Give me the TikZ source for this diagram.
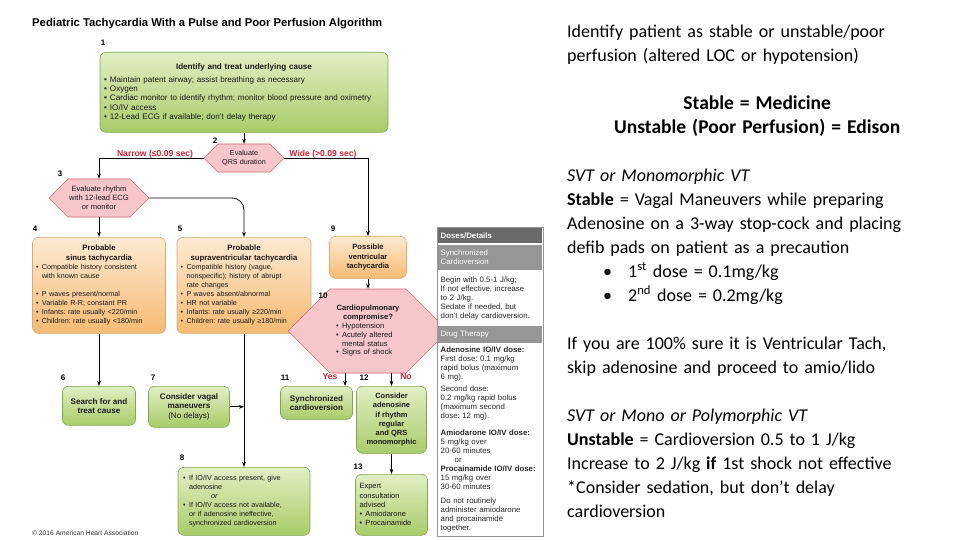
\documentclass[tikz,border=0pt]{standalone}
\usepackage{fontspec}
\setmainfont{Liberation Sans}
\newfontfamily\slidefont{Carlito}
\usetikzlibrary{arrows.meta,positioning,shapes.symbols}

\definecolor{greentop}{RGB}{226,238,196}
\definecolor{greenbot}{RGB}{168,204,104}
\definecolor{greenline}{RGB}{130,165,85}
\definecolor{orangetop}{RGB}{253,234,210}
\definecolor{orangebot}{RGB}{246,186,115}
\definecolor{orangeline}{RGB}{215,170,120}
\definecolor{hexfill}{RGB}{246,198,203}
\definecolor{hexline}{RGB}{205,105,115}
\definecolor{branchred}{RGB}{205,35,50}
\definecolor{panelgray}{RGB}{105,105,105}
\definecolor{bandgray}{RGB}{150,150,150}

\newcommand{\chartfont}{\fontsize{7.2}{9}\selectfont\frenchspacing}
\newcommand{\bigchart}{\fontsize{8.1}{9.2}\selectfont\frenchspacing}
\newcommand{\panelfont}{\fontsize{7.8}{9}\selectfont\frenchspacing}
\newcommand{\bl}{\makebox[6pt][l]{\textbullet}}
\newcommand{\cl}{\hspace*{6pt}}

\tikzset{
  greenbox/.style={draw=greenline, top color=greentop, bottom color=greenbot, rounded corners=6pt,
    line width=0.6pt, font=\chartfont, inner sep=3pt, anchor=north, text=black!90},
  orangebox/.style={draw=orangeline, top color=orangetop, bottom color=orangebot, rounded corners=6pt,
    line width=0.6pt, font=\chartfont, inner sep=3pt, anchor=north, text=black!90},
  hexbox/.style={shape=signal, signal to=west and east, draw=hexline, fill=hexfill,
    line width=0.6pt, font=\chartfont, align=center, inner sep=1pt, text=black!90},
  steplabel/.style={font=\fontsize{8}{9}\selectfont\bfseries, inner sep=0},
  branch/.style={font=\fontsize{8.6}{9}\selectfont\bfseries, text=branchred, inner sep=0},
  arr/.style={-{Stealth[length=5pt,width=3.6pt]}, line width=0.8pt},
  panelhead/.style={fill=panelgray, text=white, font=\panelfont\bfseries, text width=99pt,
    minimum height=15pt, inner sep=2.5pt, align=left},
  panelband/.style={fill=bandgray, text=white, font=\panelfont, text width=99pt,
    inner sep=2.5pt, align=left},
  paneltext/.style={fill=white, text=black!85, font=\panelfont, text width=99pt,
    inner sep=2.5pt, align=left},
  notes/.style={anchor=north west, inner sep=0, text width=380pt, align=left,
    font=\slidefont\fontsize{18}{24}\selectfont}
}

\begin{document}
\begin{tikzpicture}[x=1pt,y=-1pt]
  \useasboundingbox (0,0) rectangle (960,540);
  \fill[white] (0,0) rectangle (960,540);

  \node[anchor=west, font=\fontsize{11.3}{13}\selectfont\bfseries, inner sep=0] (title) at (32,24)
    {Pediatric Tachycardia With a Pulse and Poor Perfusion Algorithm};

  % step boxes
  \node[greenbox, font=\bigchart, minimum width=288, minimum height=80, text width=280pt, align=left] (cause) at (244,52)
    {{\centering\bfseries Identify and treat underlying cause\par}\vspace{4pt}
     \bl Maintain patent airway; assist breathing as necessary\\
     \bl Oxygen\\
     \bl Cardiac monitor to identify rhythm; monitor blood pressure and oximetry\\
     \bl IO/IV access\\
     \bl 12-Lead ECG if available; don’t delay therapy};
  \node[hexbox, minimum width=80, minimum height=28] (qrs) at (244,158) {Evaluate\\QRS duration};
  \node[hexbox, font=\fontsize{7.6}{9}\selectfont, minimum width=100, minimum height=38] (rhythm) at (99,198)
    {Evaluate rhythm\\with 12-lead ECG\\or monitor};
  \node[orangebox, minimum width=133, minimum height=96, text width=126pt, align=left] (sinus) at (99,237)
    {{\centering\fontsize{7.8}{10}\selectfont\bfseries Probable\\sinus tachycardia\par}
     \bl Compatible history consistent\\
     \cl with known cause\\[9pt]
     \bl P waves present/normal\\
     \bl Variable R-R; constant PR\\
     \bl Infants: rate usually <220/min\\
     \bl Children: rate usually <180/min};
  \node[orangebox, minimum width=134, minimum height=96, text width=127pt, align=left] (svt) at (244,237)
    {{\centering\fontsize{7.8}{10}\selectfont\bfseries Probable\\supraventricular tachycardia\par}
     \bl Compatible history (vague,\\
     \cl nonspecific); history of abrupt\\
     \cl rate changes\\
     \bl P waves absent/abnormal\\
     \bl HR not variable\\
     \bl Infants: rate usually ≥220/min\\
     \bl Children: rate usually ≥180/min};
  \node[orangebox, minimum width=77, minimum height=42, align=center, font=\fontsize{7.6}{9.3}\selectfont\bfseries] (vtach) at (368,236)
    {Possible\\ventricular\\tachycardia};
  \node[hexbox, font=\fontsize{7.6}{8.8}\selectfont, minimum width=100, minimum height=84, text width=74pt, align=left] (compromise) at (368,331)
    {{\centering\bfseries Cardiopulmonary\\compromise?\par}
     \hspace*{5pt}\bl Hypotension\\
     \hspace*{5pt}\bl Acutely altered\\
     \hspace*{5pt}\cl mental status\\
     \hspace*{5pt}\bl Signs of shock};
  \node[greenbox, minimum width=73, minimum height=39, align=center, font=\bigchart\bfseries] (search) at (99,386)
    {Search for and\\treat cause};
  \node[greenbox, minimum width=81, minimum height=41, align=center, font=\bigchart] (vagal) at (189,386)
    {\textbf{Consider vagal}\\\textbf{maneuvers}\\(No delays)};
  \node[greenbox, minimum width=72, minimum height=33, align=center, font=\bigchart\bfseries] (cardiovert) at (316.5,386)
    {Synchronized\\cardioversion};
  \node[greenbox, minimum width=70, minimum height=67, align=center, font=\fontsize{7.5}{9.3}\selectfont\bfseries] (adenosine) at (391.5,386)
    {Consider\\adenosine\\if rhythm\\regular\\and QRS\\monomorphic};
  \node[greenbox, minimum width=132, minimum height=68, text width=122pt, align=left] (ivaccess) at (244,467)
    {\bl If IO/IV access present, give\\
     \cl adenosine\\
     \hspace*{28pt}\textit{or}\\
     \bl If IO/IV access not available,\\
     \cl or if adenosine ineffective,\\
     \cl synchronized cardioversion};
  \node[greenbox, font=\fontsize{7.5}{9.2}\selectfont, minimum width=72, minimum height=61, text width=64pt, align=left] (expert) at (391.5,474)
    {Expert\\consultation\\advised\\
     \bl Amiodarone\\
     \bl Procainamide};

  % step numbers
  \node[steplabel] (n1) at (103,43) {1};
  \node[steplabel] (n2) at (215,141) {2};
  \node[steplabel] (n3) at (60,174) {3};
  \node[steplabel] (n4) at (35,229) {4};
  \node[steplabel] (n5) at (180,229) {5};
  \node[steplabel] (n9) at (333,229) {9};
  \node[steplabel] (n10) at (323,296) {10};
  \node[steplabel] (n6) at (63,378) {6};
  \node[steplabel] (n7) at (153,378) {7};
  \node[steplabel] (n11) at (285,378) {11};
  \node[steplabel] (n12) at (364,378) {12};
  \node[steplabel] (n8) at (182,458) {8};
  \node[steplabel] (n13) at (358,467) {13};

  % branch labels
  \node[branch] (narrow) at (155,154) {Narrow (≤0.09 sec)};
  \node[branch] (wide) at (323,154) {Wide (>0.09 sec)};
  \node[branch] (yes) at (330,377) {Yes};
  \node[branch] (no) at (406,377) {No};

  % connectors
  \draw[arr] (cause.south) -- (qrs.north);
  \draw[arr] (qrs.west) -| (rhythm.north);
  \draw[arr] (qrs.east) -| (vtach.north);
  \draw[arr] (rhythm.south) -- (sinus.north);
  \draw[arr, rounded corners=12pt] (rhythm.east) -| (svt.north);
  \draw[arr] (sinus.south) -- (search.north);
  \draw[arr] (svt.south) -- (ivaccess.north);
  \draw[arr] (vagal.east) -- (vagal.east -| svt.south);
  \draw[arr] (vtach.south) -- (compromise.north);
  \coordinate (yesfoot) at ([xshift=-23pt]compromise.south);
  \coordinate (nofoot) at ([xshift=23.5pt]compromise.south);
  \draw[arr] (yesfoot) -- (yesfoot |- cardiovert.north);
  \draw[arr] (nofoot) -- (nofoot |- adenosine.north);
  \draw[arr] (adenosine.south) -- (expert.north);

  % doses panel
  \node[draw=bandgray, fill=white, line width=0.6pt, minimum width=106, minimum height=309,
    anchor=north west, inner sep=0] (doses) at (437,227) {};
  \node[panelhead, anchor=north west] (doseshead) at (438,228) {Doses/Details};
  \node[panelband, below=1pt of doseshead, minimum height=25pt] (synchead) {Synchronized\\Cardioversion};
  \node[paneltext, below=1pt of synchead, minimum height=54pt] (synctext)
    {Begin with 0.5-1 J/kg;\\If not effective, increase\\to 2 J/kg.\\Sedate if needed, but\\don’t delay cardioversion.};
  \node[panelband, below=1pt of synctext, minimum height=17pt] (drughead) {Drug Therapy};
  \node[paneltext, below=1pt of drughead] (drugtext)
    {\textbf{Adenosine IO/IV dose:}\\
     First dose: 0.1 mg/kg\\
     rapid bolus (maximum\\
     6 mg).\\[3pt]
     Second dose:\\
     0.2 mg/kg rapid bolus\\
     (maximum second\\
     dose: 12 mg).\\[8pt]
     \textbf{Amiodarone IO/IV dose:}\\
     5 mg/kg over\\
     20-60 minutes\\
     \hspace*{14pt}or\\
     \textbf{Procainamide IO/IV dose:}\\
     15 mg/kg over\\
     30-60 minutes\\[5pt]
     Do not routinely\\
     administer amiodarone\\
     and procainamide\\
     together.};

  \node[anchor=west, font=\fontsize{6.7}{8}\selectfont, text=black!80, inner sep=0] (copyright) at (32,533)
    {\textcopyright\ 2016 American Heart Association};

  % slide notes
  \node[notes] (slide) at (567,20.2)
    {\strut Identify patient as stable or unstable/poor\\
     perfusion (altered LOC or hypotension)\par
     \vspace{24pt}
     {\centering\fontsize{19.5}{24}\selectfont\bfseries Stable = Medicine\\Unstable (Poor Perfusion) = Edison\par}
     \vspace{24pt}
     \textit{SVT or Monomorphic VT}\\
     \textbf{Stable} = Vagal Maneuvers while preparing\\
     Adenosine on a 3-way stop-cock and placing\\
     defib pads on patient as a precaution\\
     \hspace*{36pt}\makebox[25pt][l]{\textbullet}1\textsuperscript{st} dose = 0.1mg/kg\\
     \hspace*{36pt}\makebox[25pt][l]{\textbullet}2\textsuperscript{nd} dose = 0.2mg/kg\par
     \vspace{24pt}
     If you are 100\% sure it is Ventricular Tach,\\
     skip adenosine and proceed to amio/lido\par
     \vspace{24pt}
     \textit{SVT or Mono or Polymorphic VT}\\
     \textbf{Unstable} = Cardioversion 0.5 to 1 J/kg\\
     Increase to 2 J/kg \textbf{if} 1st shock not effective\\
     {*}Consider sedation, but don’t delay\\
     cardioversion};
\end{tikzpicture}
\end{document}
